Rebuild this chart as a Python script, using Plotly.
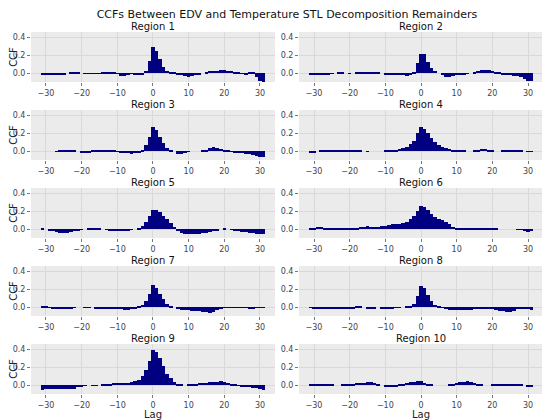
import plotly.graph_objects as go
from plotly.subplots import make_subplots

lags = list(range(-31, 32))

region_names = ["Region %d" % i for i in range(1, 11)]

ccf_r1 = [-0.02, -0.02, -0.015, -0.015, -0.015, -0.02, -0.02, 0.0, 0.015, 0.015, 0.01, 0.0, -0.005, -0.005, -0.005, -0.005, -0.005, 0.005, 0.02, 0.02, 0.01, -0.005, -0.025, -0.025, -0.01, -0.005, -0.01, -0.02, -0.01, 0.03, 0.14,
          0.29,
          0.25, 0.16, 0.07, 0.03, 0.02, 0.01, -0.01, -0.02, -0.03, -0.035, -0.03, -0.02, -0.01, 0.0, 0.01, 0.025, 0.03, 0.03, 0.035, 0.035, 0.03, 0.03, 0.02, 0.01, -0.005, -0.01, 0.01, 0.01, -0.04, -0.08, -0.1]
ccf_r2 = [-0.01, -0.01, -0.015, -0.015, -0.01, -0.01, -0.005, 0.0, 0.005, 0.005, 0.0, -0.005, 0.0, 0.005, 0.01, 0.015, 0.015, 0.015, 0.02, 0.015, 0.0, -0.01, -0.01, -0.01, -0.01, -0.015, -0.02, -0.025, -0.015, 0.02, 0.11,
          0.22,
          0.21, 0.13, 0.06, 0.03, 0.0, -0.02, -0.035, -0.045, -0.03, -0.02, -0.02, -0.01, -0.005, 0.0, 0.01, 0.03, 0.04, 0.04, 0.035, 0.03, 0.02, 0.005, -0.01, -0.015, -0.02, -0.025, -0.03, -0.035, -0.06, -0.08, -0.08]
ccf_r3 = [0.0, 0.0, 0.0, 0.0, 0.003, 0.005, 0.01, 0.015, 0.02, 0.015, 0.0, -0.015, -0.02, -0.01, 0.005, 0.015, 0.02, 0.02, 0.015, 0.01, 0.005, -0.005, -0.01, -0.015, -0.02, -0.025, -0.02, -0.01, 0.01, 0.07, 0.16,
          0.27,
          0.24, 0.16, 0.09, 0.04, 0.02, 0.0, -0.025, -0.03, -0.02, -0.005, 0.0, 0.0, 0.0, 0.005, 0.015, 0.035, 0.045, 0.04, 0.03, 0.015, 0.005, -0.005, -0.01, -0.015, -0.02, -0.025, -0.03, -0.04, -0.05, -0.06, -0.065]
ccf_r4 = [-0.01, -0.01, 0.0, 0.005, 0.01, 0.015, 0.02, 0.02, 0.02, 0.015, 0.01, 0.01, 0.01, 0.01, 0.005, 0.0, -0.002, 0.0, 0.0, 0.0, 0.0, 0.005, 0.005, 0.01, 0.015, 0.025, 0.035, 0.05, 0.08, 0.12, 0.2,
          0.27,
          0.25, 0.2, 0.15, 0.1, 0.07, 0.05, 0.04, 0.03, 0.02, 0.015, 0.01, 0.005, 0.0, 0.0, 0.005, 0.015, 0.025, 0.025, 0.015, 0.005, 0.0, 0.0, 0.005, 0.015, 0.02, 0.02, 0.015, 0.005, 0.0, -0.005, -0.005]
ccf_r5 = [0.01, 0.0, -0.01, -0.02, -0.03, -0.04, -0.045, -0.04, -0.03, -0.02, -0.01, -0.005, 0.0, 0.005, 0.01, 0.01, 0.005, 0.0, -0.005, -0.01, -0.01, -0.01, -0.01, -0.01, -0.01, -0.005, 0.0, 0.01, 0.04, 0.08, 0.15,
          0.21,
          0.22, 0.19, 0.15, 0.11, 0.07, 0.03, -0.01, -0.04, -0.05, -0.05, -0.05, -0.05, -0.05, -0.045, -0.04, -0.03, -0.02, -0.01, 0.0, 0.005, 0.0, -0.005, -0.01, -0.02, -0.025, -0.03, -0.035, -0.04, -0.05, -0.055, -0.05]
ccf_r6 = [0.02, 0.02, 0.025, 0.025, 0.02, 0.015, 0.015, 0.015, 0.015, 0.015, 0.02, 0.02, 0.02, 0.02, 0.025, 0.03, 0.035, 0.03, 0.03, 0.03, 0.035, 0.04, 0.045, 0.055, 0.06, 0.06, 0.07, 0.08, 0.11, 0.15, 0.2,
          0.26,
          0.25, 0.21, 0.17, 0.14, 0.12, 0.1, 0.08, 0.06, 0.03, 0.015, 0.015, 0.015, 0.01, 0.01, 0.01, 0.01, 0.015, 0.015, 0.015, 0.015, 0.01, 0.0, 0.0, 0.0, 0.0, 0.0, -0.005, -0.005, -0.02, -0.025, -0.02]
ccf_r7 = [0.015, 0.01, -0.005, -0.01, -0.015, -0.02, -0.02, -0.015, -0.01, -0.005, 0.0, 0.0, 0.002, 0.002, 0.0, -0.01, -0.01, -0.01, -0.01, -0.01, -0.015, -0.015, -0.02, -0.025, -0.025, -0.02, -0.01, 0.005, 0.03, 0.07, 0.15,
          0.25,
          0.22, 0.15, 0.09, 0.04, 0.02, 0.0, -0.02, -0.025, -0.025, -0.03, -0.035, -0.04, -0.045, -0.05, -0.055, -0.06, -0.05, -0.03, -0.01, -0.005, -0.005, -0.005, -0.005, -0.005, -0.005, -0.005, -0.01, -0.01, -0.005, -0.005, -0.005]
ccf_r8 = [-0.005, -0.01, -0.015, -0.015, -0.01, -0.01, -0.01, -0.01, -0.01, -0.01, -0.015, -0.02, -0.01, 0.01, 0.01, 0.0, -0.015, -0.02, -0.015, 0.0, -0.01, -0.01, -0.01, -0.01, -0.005, -0.005, 0.0, 0.005, 0.01, 0.04, 0.13,
          0.24,
          0.22, 0.14, 0.07, 0.03, 0.01, -0.005, -0.015, -0.025, -0.03, -0.03, -0.03, -0.03, -0.025, -0.025, -0.02, -0.02, -0.015, -0.01, -0.01, -0.015, -0.025, -0.035, -0.045, -0.05, -0.055, -0.04, -0.02, -0.01, -0.01, -0.02, -0.03]
ccf_r9 = [-0.05, -0.045, -0.04, -0.04, -0.04, -0.04, -0.04, -0.04, -0.035, -0.035, -0.02, -0.01, -0.005, 0.0, -0.002, -0.005, 0.0, 0.005, 0.015, 0.02, 0.025, 0.025, 0.025, 0.03, 0.03, 0.035, 0.045, 0.06, 0.1, 0.17, 0.27,
          0.39,
          0.37, 0.3, 0.21, 0.13, 0.08, 0.04, 0.02, 0.005, 0.0, 0.005, 0.015, 0.02, 0.025, 0.03, 0.03, 0.035, 0.035, 0.04, 0.045, 0.04, 0.03, 0.02, 0.005, -0.005, -0.01, -0.015, -0.02, -0.025, -0.03, -0.035, -0.05]
ccf_r10 = [0.01, 0.01, 0.01, 0.01, 0.01, 0.01, 0.005, 0.0, 0.0, 0.015, 0.02, 0.02, 0.02, 0.025, 0.025, 0.03, 0.035, 0.035, 0.03, 0.01, 0.0, -0.01, -0.02, -0.02, -0.01, 0.01, 0.02, 0.03, 0.035, 0.04, 0.045,
           0.045,
           0.03, 0.01, 0.005, 0.0, 0.0, 0.0, 0.0, 0.01, 0.02, 0.03, 0.035, 0.04, 0.045, 0.04, 0.03, 0.01, 0.005, 0.0, 0.0, 0.005, 0.01, 0.015, 0.02, 0.02, 0.02, 0.02, 0.02, 0.015, 0.0, -0.01, -0.02]

all_ccfs = [ccf_r1, ccf_r2, ccf_r3, ccf_r4, ccf_r5,
            ccf_r6, ccf_r7, ccf_r8, ccf_r9, ccf_r10]

x_ticks = [-30, -20, -10, 0, 10, 20, 30]
y_ticks = [0.0, 0.2, 0.4]

FONT = "DejaVu Sans"

fig = make_subplots(rows=5, cols=2,
                    subplot_titles=region_names,
                    horizontal_spacing=0.047,
                    vertical_spacing=0.0773)

for i, vals in enumerate(all_ccfs):
    r = i // 2 + 1
    c = i % 2 + 1
    fig.add_trace(go.Bar(x=lags, y=vals, width=1.0,
                         marker=dict(color="#000080", line=dict(width=0)),
                         showlegend=False),
                  row=r, col=c)

# axes like the matplotlib grey style
fig.update_xaxes(range=[-34.2, 34.2], tickvals=x_ticks,
                 showgrid=True, gridcolor="#d9d9d9", gridwidth=0.8,
                 zeroline=False, ticks="outside", ticklen=3, tickcolor="#777777",
                 tickfont=dict(family=FONT, size=8, color="#444444"),
                 automargin=False)
fig.update_yaxes(range=[-0.095, 0.458], tickvals=y_ticks, tickformat=".1f",
                 showgrid=True, gridcolor="#d9d9d9", gridwidth=0.8,
                 zeroline=False, ticks="outside", ticklen=3, tickcolor="#777777",
                 tickfont=dict(family=FONT, size=8, color="#444444"),
                 automargin=False)

for r in range(1, 6):
    fig.update_yaxes(title_text="CCF", title_standoff=0,
                     title_font=dict(family=FONT, size=10, color="#222222"),
                     row=r, col=1)
for c in (1, 2):
    fig.update_xaxes(title_text="Lag", title_standoff=0,
                     title_font=dict(family=FONT, size=10, color="#222222"),
                     row=5, col=c)

for ann in fig.layout.annotations:
    ann.font = dict(family=FONT, size=10, color="#111111")
    ann.yshift = -2

# the page puts the figure 8px in from the top left, so the figure is kept
# 8px smaller than the window
fig.update_layout(
    width=542, height=412,
    margin=dict(l=23, r=7, t=24, b=26),
    title=dict(text="CCFs Between EDV and Temperature STL Decomposition Remainders",
               x=0.5, xanchor="center", xref="paper",
               y=0.984, yanchor="middle",
               font=dict(family=FONT, size=11, color="#111111")),
    bargap=0,
    plot_bgcolor="#ebebeb",
    paper_bgcolor="white",
    font=dict(family=FONT),
)

fig.write_html("out.html")
